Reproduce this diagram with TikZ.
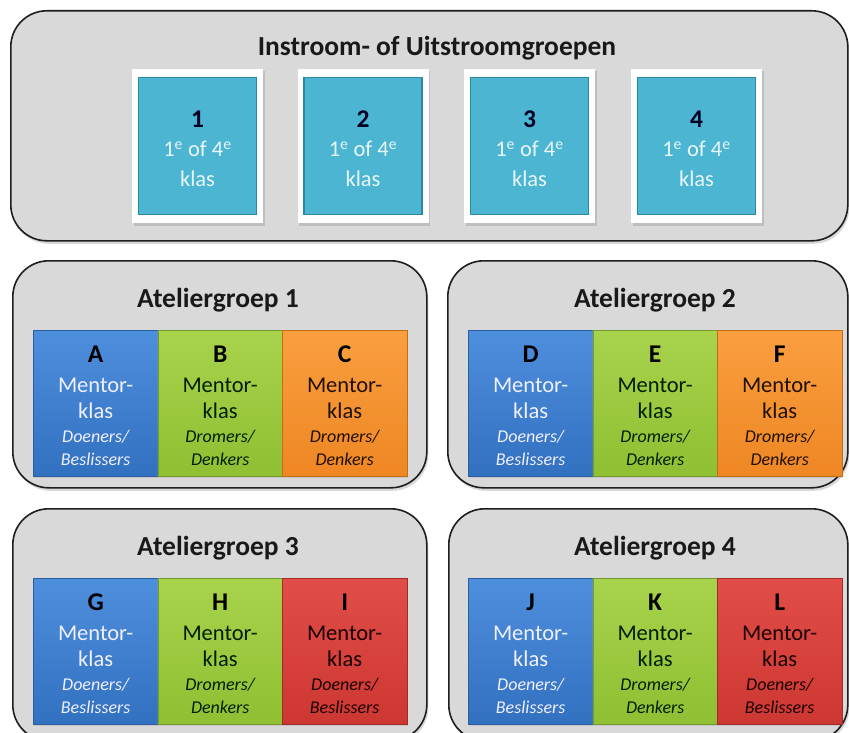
\documentclass[tikz,border=0pt]{standalone}
\usepackage{fontspec}
\setmainfont{Carlito}
\usetikzlibrary{shadows}
\definecolor{panelfill}{HTML}{D9D9D9}
\definecolor{panelline}{HTML}{1E1E1E}
\definecolor{cyanfill}{HTML}{4BB5D2}
\definecolor{cyanline}{HTML}{2B88A3}
\definecolor{cyantext}{HTML}{E9F6FA}
\definecolor{bluetop}{HTML}{4E8FDD}
\definecolor{bluebot}{HTML}{3270C0}
\definecolor{blueline}{HTML}{2A5E9E}
\definecolor{greentop}{HTML}{A8D34C}
\definecolor{greenbot}{HTML}{8FBF32}
\definecolor{greenline}{HTML}{769A2C}
\definecolor{orangetop}{HTML}{FA9F40}
\definecolor{orangebot}{HTML}{EE8623}
\definecolor{orangeline}{HTML}{C46D14}
\definecolor{redtop}{HTML}{E14D47}
\definecolor{redbot}{HTML}{CD3732}
\definecolor{redline}{HTML}{A32A26}
\newcommand\klasbox[7]{%
  \node[kbox,#4] (#1) at (#2,#3) {};
  \node[ltr] (#1-a) at ([yshift=-32pt]#1.north) {#5};
  \node[mtxt,#4txt] (#1-b) at ([yshift=-62pt]#1.north) {Mentor-};
  \node[mtxt,#4txt] (#1-c) at ([yshift=-88pt]#1.north) {klas};
  \node[itxt,#4txt] (#1-d) at ([yshift=-112pt]#1.north) {#6};
  \node[itxt,#4txt] (#1-e) at ([yshift=-135pt]#1.north) {#7};
}
\newcommand\cyanbox[3]{%
  \node[frame] (#1f) at (#2,146) {};
  \node[cbox] (#1) at (#2,146) {};
  \node[ltr,text=black!85!blue] (#1-a) at (#2,128) {#3};
  \node[mtxt,text=cyantext] (#1-b) at (#2,157) {1\textsuperscript{e} of 4\textsuperscript{e}};
  \node[mtxt,text=cyantext] (#1-c) at (#2,186) {klas};
}
\begin{document}
\begin{tikzpicture}[x=1pt,y=-1pt,
  panel/.style={draw=panelline,line width=1.6pt,fill=panelfill,rounded corners=36pt,
    anchor=north west,inner sep=0pt,
    drop shadow={opacity=0.3,shadow xshift=1.5pt,shadow yshift=-3pt}},
  ptitle/.style={anchor=base,inner sep=0pt,font=\bfseries\fontsize{27.5}{32}\selectfont,text=black!90},
  frame/.style={fill=white,minimum width=131pt,minimum height=154pt,inner sep=0pt,
    drop shadow={opacity=0.3,shadow xshift=1.5pt,shadow yshift=-2.5pt}},
  cbox/.style={fill=cyanfill,draw=cyanline,line width=1.5pt,minimum width=118pt,minimum height=137pt,inner sep=0pt},
  kbox/.style={anchor=north west,minimum width=124.5pt,minimum height=146pt,inner sep=0pt,line width=0.8pt,
    drop shadow={opacity=0.2,shadow xshift=1pt,shadow yshift=-1.5pt}},
  blue/.style={top color=bluetop,bottom color=bluebot,draw=blueline},
  green/.style={top color=greentop,bottom color=greenbot,draw=greenline},
  orange/.style={top color=orangetop,bottom color=orangebot,draw=orangeline},
  red/.style={top color=redtop,bottom color=redbot,draw=redline},
  bluetxt/.style={text=white!94!blue},
  greentxt/.style={text=black!80!green!60!black},
  orangetxt/.style={text=black!75!orange!50!black},
  redtxt/.style={text=black!80!red!50!black},
  ltr/.style={anchor=base,inner sep=0pt,font=\bfseries\fontsize{25.5}{30}\selectfont,text=black},
  mtxt/.style={anchor=base,inner sep=0pt,font=\fontsize{22.5}{26}\selectfont},
  itxt/.style={anchor=base,inner sep=0pt,font=\itshape\fontsize{18}{21}\selectfont},
]
\useasboundingbox (0,0) rectangle (849,733);
\fill[white] (0,0) rectangle (849,733);

% top panel
\node[panel,minimum width=837pt,minimum height=230pt] (ptop) at (10,10) {};
\node[ptitle] (ttop) at (437,56) {Instroom- of Uitstroomgroepen};
\cyanbox{c1}{197.5}{1}
\cyanbox{c2}{363}{2}
\cyanbox{c3}{529.5}{3}
\cyanbox{c4}{696.5}{4}

% atelier panels
\node[panel,minimum width=414pt,minimum height=227pt] (p1) at (12,260) {};
\node[panel,minimum width=400pt,minimum height=227pt] (p2) at (447,260) {};
\node[panel,minimum width=414pt,minimum height=232pt] (p3) at (12,508) {};
\node[panel,minimum width=399pt,minimum height=232pt] (p4) at (448,508) {};

\node[ptitle] (t1) at (218,307) {Ateliergroep 1};
\node[ptitle] (t2) at (655,307) {Ateliergroep 2};
\node[ptitle] (t3) at (218,555) {Ateliergroep 3};
\node[ptitle] (t4) at (655,555) {Ateliergroep 4};

\klasbox{A}{33}{330}{blue}{A}{Doeners/}{Beslissers}
\klasbox{B}{157.5}{330}{green}{B}{Dromers/}{Denkers}
\klasbox{C}{282}{330}{orange}{C}{Dromers/}{Denkers}
\klasbox{D}{468}{330}{blue}{D}{Doeners/}{Beslissers}
\klasbox{E}{592.5}{330}{green}{E}{Dromers/}{Denkers}
\klasbox{F}{717}{330}{orange}{F}{Dromers/}{Denkers}

\klasbox{G}{33}{578}{blue}{G}{Doeners/}{Beslissers}
\klasbox{H}{157.5}{578}{green}{H}{Dromers/}{Denkers}
\klasbox{I}{282}{578}{red}{I}{Doeners/}{Beslissers}
\klasbox{J}{468}{578}{blue}{J}{Doeners/}{Beslissers}
\klasbox{K}{592.5}{578}{green}{K}{Dromers/}{Denkers}
\klasbox{L}{717}{578}{red}{L}{Doeners/}{Beslissers}
\end{tikzpicture}
\end{document}
